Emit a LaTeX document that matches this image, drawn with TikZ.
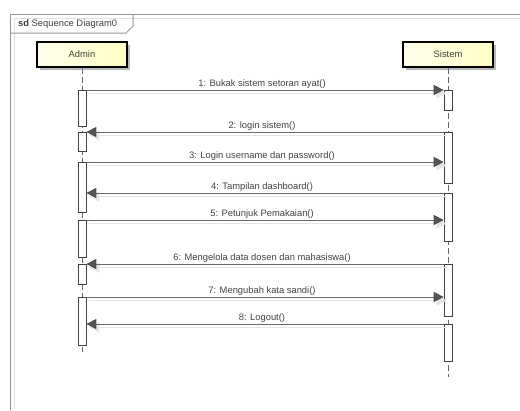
\documentclass[tikz,border=0pt]{standalone}
\usepackage{fontspec}
\setmainfont{Liberation Sans}
\usetikzlibrary{arrows.meta,shadows,calc}

\definecolor{lifelt}{RGB}{255,255,236}
\definecolor{lifedk}{RGB}{255,255,196}
\definecolor{ink}{RGB}{64,64,64}
\definecolor{msgline}{RGB}{105,105,105}
\definecolor{tipfill}{RGB}{85,85,85}
\definecolor{framegray}{RGB}{150,150,150}

\begin{document}
\begin{tikzpicture}[x=1bp,y=-1bp,
  font=\fontsize{9.4}{11}\selectfont,
  every node/.style={text=ink},
  lifebox/.style={draw=black, line width=1.4bp,
    left color=lifelt, right color=lifedk,
    minimum width=90bp, minimum height=25bp, inner sep=0pt,
    drop shadow={shadow xshift=3bp, shadow yshift=-3bp, fill=black!28, opacity=1}},
  lifeline/.style={draw=black!60, line width=0.8bp, dash pattern=on 6bp off 3bp},
  actbar/.style={draw=black!75, fill=white, line width=0.7bp,
    minimum width=8bp, inner sep=0pt, anchor=north},
  msg/.style={draw=msgline, line width=1bp,
    -{Triangle[length=10bp, width=10bp, fill=tipfill, color=black!70]}},
  msgshade/.style={draw=black!10, line width=1.6bp,
    -{Triangle[length=10bp, width=10bp, fill=black!10, color=black!10]}},
  msglabel/.style={midway, anchor=south, inner sep=1.2bp, xshift=-3bp},
  framebox/.style={draw=framegray, line width=1bp}
]
\useasboundingbox (0,0) rectangle (520,410);

% sequence diagram frame and its name tab
\draw[black!12, line width=1bp] (14,410) -- (14,18) -- (520,18);
\draw[framebox] (10,410) -- (10,14) -- (520,14);
\draw[framebox] (10,33) -- (126,33) -- (133,26) -- (133,14);
\node[anchor=west, inner sep=0pt] (title) at (18,24.5) {\textbf{sd} Sequence Diagram0};

% participants
\node[lifebox] (admin)  at (82,54.5)  {Admin};
\node[lifebox] (sistem) at (448,54.5) {Sistem};

% lifelines
\coordinate (adminEnd)  at (82,352);
\coordinate (sistemEnd) at (448,377);
\draw[lifeline] (admin.south)  -- (adminEnd);
\draw[lifeline] (sistem.south) -- (sistemEnd);

% activation bars of Admin
\node[actbar, minimum height=36bp] (A1) at (82,90)  {};
\node[actbar, minimum height=19bp] (A2) at (82,132) {};
\node[actbar, minimum height=50bp] (A3) at (82,162) {};
\node[actbar, minimum height=37bp] (A4) at (82,220) {};
\node[actbar, minimum height=20bp] (A5) at (82,264) {};
\node[actbar, minimum height=48bp] (A6) at (82,297) {};

% activation bars of Sistem
\node[actbar, minimum height=20bp] (S1) at (448,90)  {};
\node[actbar, minimum height=51bp] (S2) at (448,132) {};
\node[actbar, minimum height=48bp] (S3) at (448,193) {};
\node[actbar, minimum height=52bp] (S4) at (448,264) {};
\node[actbar, minimum height=37bp] (S5) at (448,324) {};

% messages: start / end / label
\foreach \from/\to/\txt in {
  {A1.north east}/{S1.north west}/{1: Bukak sistem setoran ayat()},
  {S2.north west}/{A2.north east}/{2: login sistem()},
  {A3.north east}/{A3.north east -| S2.west}/{3: Login username dan password()},
  {S3.north west}/{S3.north west -| A3.east}/{4: Tampilan dashboard()},
  {A4.north east}/{A4.north east -| S3.west}/{5: Petunjuk Pemakaian()},
  {S4.north west}/{A5.north east}/{6: Mengelola data dosen dan mahasiswa()},
  {A6.north east}/{A6.north east -| S4.west}/{7: Mengubah kata sandi()},
  {S5.north west}/{S5.north west -| A6.east}/{8: Logout()}}
{
  \draw[msgshade] ($(\from)+(3,3.5)$) -- ($(\to)+(3,3.5)$);
  \draw[msg] (\from) -- (\to) node[msglabel] {\txt};
}
\end{tikzpicture}
\end{document}
